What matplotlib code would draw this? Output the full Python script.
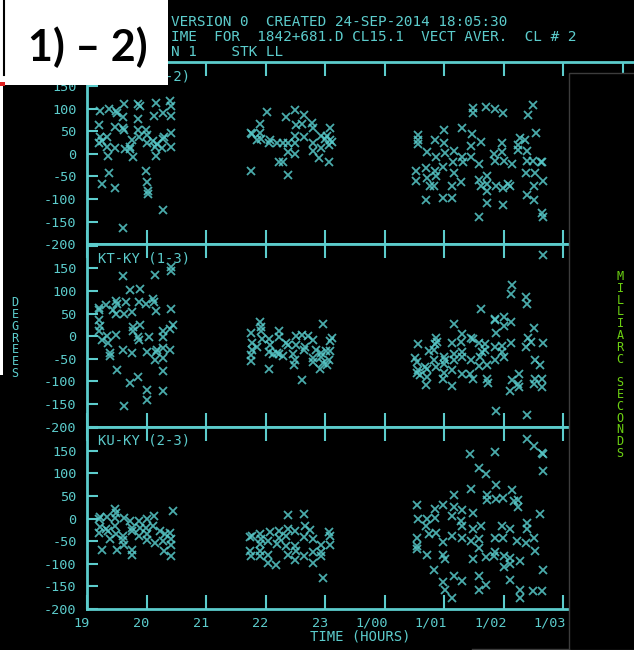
import matplotlib
matplotlib.use("Agg")
import matplotlib.pyplot as plt
import matplotlib.transforms as mtransforms
from matplotlib.patches import Rectangle
from matplotlib.lines import Line2D

W, H = 634, 650
CYAN = "#5ccccc"
MARK = "#58caca"
GREEN = "#6cd012"
MONO = "DejaVu Sans Mono"

# time axis: hours since 0h of day 0 (24 = 1/00, 25 = 1/01, ...)
x_ticks = [19, 20, 21, 22, 23, 24, 25, 26, 27, 28]
x_tick_labels = ["19", "20", "21", "22", "23", "1/00", "1/01", "1/02", "1/03", "1/04"]
y_ticks = [-200, -150, -100, -50, 0, 50, 100, 150, 200]
y_tick_labels = ["-200", "-150", "-100", "-50", "0", "50", "100", "150", ""]

baselines = ["KT-KU (1-2)", "KT-KY (1-3)", "KU-KY (2-3)"]

header_lines = [
    "VERSION 0  CREATED 24-SEP-2014 18:05:30",
    "IME  FOR  1842+681.D CL15.1  VECT AVER.  CL # 2",
    "N 1    STK LL",
]

# (time [h], phase [deg]) per baseline
kt_ku_points = [
    (19.22, 94), (19.37, 99), (19.49, 94), (19.51, 90), (19.62, 110), (19.60, 81),
    (19.86, 110), (19.89, 106), (19.86, 77), (20.16, 112), (20.39, 116), (20.42, 105),
    (20.28, 91), (20.13, 84), (20.41, 83), (19.21, 64), (19.47, 60), (19.61, 57),
    (19.62, 53), (19.86, 53), (19.99, 53), (20.00, 42), (19.88, 38), (19.22, 38),
    (19.33, 37), (19.25, 29), (19.21, 24), (19.34, 15), (19.47, 12), (19.64, 10),
    (19.72, 10), (19.75, 31), (19.73, 15), (20.11, 29), (20.14, 15), (20.18, 22),
    (20.27, 33), (20.29, 37), (20.42, 46), (20.41, 15), (20.26, 12), (20.01, 25),
    (19.35, -4), (19.77, -7), (20.16, -4), (19.37, -43), (19.99, -37), (19.25, -66),
    (19.47, -75), (20.00, -63), (20.02, -83), (20.03, -89), (20.28, -125), (19.61, -164),
    (22.03, 93), (22.50, 97), (22.34, 81), (22.65, 86), (21.91, 66), (22.52, 64),
    (22.61, 66), (22.78, 68), (22.79, 57), (23.08, 57), (21.75, 47), (21.78, 44),
    (21.90, 47), (21.92, 32), (22.08, 31), (22.06, 25), (22.19, 24), (22.30, 24),
    (22.37, 24), (22.50, 40), (22.65, 37), (22.50, 24), (22.80, 24), (22.93, 40),
    (23.00, 33), (23.08, 30), (23.11, 27), (22.80, 7), (22.94, 12), (23.07, 20),
    (22.38, 3), (22.50, 0), (22.90, -10), (22.22, -17), (22.30, -19), (23.07, -17),
    (21.75, -39), (22.37, -46), (21.86, 31), (23.03, 39),
    (25.48, 101), (25.48, 90), (25.71, 103), (25.85, 99), (25.99, 90), (26.49, 108),
    (26.42, 86), (25.00, 53), (25.30, 57), (25.47, 44), (25.62, 27), (24.57, 42),
    (24.57, 31), (24.57, 21), (24.85, 30), (25.00, 24), (24.72, 5), (24.87, -7),
    (25.02, 2), (25.16, 7), (25.31, -6), (25.45, 18), (25.45, -6), (25.32, -17),
    (25.15, -17), (25.58, -23), (25.97, 25), (25.84, -1), (25.97, 5), (25.86, -15),
    (26.01, -15), (26.14, -22), (26.28, 35), (26.36, 31), (26.25, 20), (26.25, 9),
    (26.39, 7), (26.54, 46), (26.39, -15), (26.50, -15), (26.63, -19), (26.64, -17),
    (24.53, -39), (24.70, -32), (24.72, -54), (24.85, -39), (24.87, -50), (24.98, -28),
    (25.16, -43), (24.76, -72), (24.83, -72), (24.53, -61), (25.13, -71), (25.29, -63),
    (25.59, -58), (25.63, -71), (25.73, -50), (25.72, -66), (25.72, -83), (25.87, -71),
    (25.99, -76), (26.11, -72), (26.08, -66), (26.37, -43), (26.53, -43), (26.51, -72),
    (26.66, -61), (26.39, -91), (26.51, -103), (24.70, -102), (24.98, -97), (25.13, -97),
    (25.73, -109), (25.99, -114), (25.58, -140), (26.64, -130), (26.66, -139),
]

kt_ky_points = [
    (19.60, 134), (20.14, 136), (20.41, 152), (20.41, 145), (19.72, 102), (19.89, 104),
    (19.49, 78), (19.50, 72), (19.66, 76), (19.21, 63), (19.32, 69), (19.21, 57),
    (19.44, 57), (19.49, 50), (19.62, 49), (19.75, 54), (19.88, 76), (19.99, 72),
    (20.11, 83), (20.13, 76), (20.16, 56), (20.42, 59), (19.21, 35), (19.22, 22),
    (19.21, 12), (19.49, 2), (19.34, 0), (19.25, -9), (19.36, -16), (19.38, -38),
    (19.38, -44), (19.77, 21), (19.78, 12), (19.89, 24), (19.86, -2), (19.88, -9),
    (20.05, -2), (19.60, -31), (19.75, -38), (20.00, -35), (20.16, -35), (20.17, -31),
    (20.28, -27), (20.28, -2), (20.27, 12), (20.44, 24), (20.39, 16), (20.39, -31),
    (20.27, -49), (20.14, -53), (19.50, -74), (20.27, -77), (19.72, -103), (19.86, -90),
    (20.00, -118), (20.00, -140), (20.28, -122), (19.62, -155),
    (21.90, 32), (21.92, 21), (21.92, 12), (21.75, 7), (22.22, 12), (22.23, -1),
    (22.96, 26), (23.11, -5), (23.08, -10), (21.78, -16), (21.86, -24), (21.94, -7),
    (22.06, -7), (22.08, -20), (22.37, -20), (22.34, -16), (22.52, 0), (22.61, 2),
    (22.72, 0), (22.79, -9), (22.51, -20), (22.66, -25), (22.65, -30), (22.85, -31),
    (21.77, -30), (21.75, -42), (21.75, -55), (22.06, -35), (22.19, -38), (22.23, -40),
    (22.30, -44), (22.47, -40), (22.79, -49), (22.93, -38), (23.02, -32), (23.08, -32),
    (22.94, -47), (23.07, -53), (22.50, -52), (22.48, -64), (22.92, -72), (23.04, -64),
    (22.06, -72), (22.61, -96), (22.80, -57), (22.96, -60), (22.13, -40),
    (26.14, 113), (26.13, 94), (26.37, 86), (26.39, 71), (25.62, 59), (25.86, 39),
    (25.86, 35), (26.00, 43), (26.13, 32), (26.00, 22), (25.16, 28), (25.87, 7),
    (26.52, 17), (24.86, -3), (24.88, -13), (25.30, 4), (25.45, -3), (25.48, -7),
    (25.14, -15), (25.29, -13), (25.58, -16), (25.69, -18), (25.85, -25), (25.97, -22),
    (26.13, -15), (26.42, -5), (26.47, -13), (26.67, -15), (26.37, -25), (24.56, -18),
    (24.74, -32), (24.84, -30), (24.85, -18), (24.52, -49), (24.54, -57), (24.68, -68),
    (24.71, -72), (24.56, -74), (24.54, -81), (24.60, -86), (24.71, -90), (24.69, -108),
    (24.84, -52), (24.86, -68), (25.00, -46), (25.02, -53), (25.00, -61), (25.16, -40),
    (25.16, -53), (25.30, -35), (25.30, -46), (25.45, -53), (25.60, -46), (25.64, -35),
    (25.69, -30), (25.72, -64), (25.58, -66), (25.85, -53), (25.97, -35), (26.00, -46),
    (25.13, -75), (25.00, -81), (24.99, -94), (25.30, -84), (25.44, -84), (25.48, -94),
    (25.72, -94), (25.74, -103), (25.14, -111), (26.14, -97), (26.26, -84), (26.24, -106),
    (26.26, -112), (26.11, -121), (26.53, -53), (26.61, -64), (26.53, -94), (26.64, -94),
    (26.52, -106), (26.64, -112), (25.87, -165), (26.39, -175), (26.66, 180),
]

ku_ky_points = [
    (19.22, 4), (19.21, -2), (19.34, 4), (19.47, 20), (19.49, 12), (19.62, 2),
    (19.47, 2), (19.22, -18), (19.21, -32), (19.32, -23), (19.36, -28), (19.39, -45),
    (19.49, -35), (19.47, -17), (19.60, -39), (19.61, -47), (19.62, -58), (19.75, -21),
    (19.75, -28), (19.88, -6), (20.00, -2), (20.13, 5), (19.99, -21), (20.01, -35),
    (20.00, -47), (20.11, -17), (20.23, -28), (20.31, -35), (20.39, -32), (20.41, -45),
    (20.27, -50), (20.14, -54), (20.29, -72), (20.42, -58), (20.42, -83), (20.44, 16),
    (19.25, -69), (19.50, -69), (19.75, -69), (19.75, -80), (19.88, -38), (19.89, -21),
    (19.72, -6),
    (22.37, 7), (22.65, 11), (21.74, -40), (21.77, -38), (21.91, -35), (21.92, -46),
    (21.91, -57), (22.08, -30), (22.22, -28), (22.37, -24), (22.50, -28), (22.66, -17),
    (22.75, -26), (21.74, -72), (21.75, -82), (21.90, -72), (21.90, -83), (22.05, -50),
    (22.05, -80), (22.05, -98), (22.18, -102), (22.20, -57), (22.34, -60), (22.37, -80),
    (22.50, -61), (22.51, -72), (22.50, -91), (22.65, -40), (22.80, -46), (22.65, -83),
    (22.79, -75), (22.79, -98), (22.94, -75), (22.93, -83), (22.94, -58), (23.07, -30),
    (23.08, -39), (23.09, -58), (22.96, -131), (22.22, -43), (22.34, -39),
    (25.44, 143), (25.85, 148), (26.39, 175), (26.51, 160), (26.64, 145), (26.66, 143),
    (26.66, 106), (25.59, 112), (25.71, 99), (25.87, 74), (25.45, 66), (26.14, 63),
    (24.55, 30), (24.99, 30), (25.16, 51), (25.16, 25), (25.30, 18), (25.48, 13),
    (25.73, 51), (25.73, 40), (25.87, 44), (25.99, 46), (26.17, 38), (26.25, 42),
    (26.25, 25), (24.85, 20), (24.85, 2), (24.57, -1), (24.71, -1), (24.70, -17),
    (24.74, -35), (24.87, -33), (25.14, 5), (25.29, -6), (25.31, -17), (25.48, -24),
    (25.62, -17), (25.97, -17), (26.11, -24), (26.40, -11), (26.39, -23), (26.61, 10),
    (24.54, -43), (24.55, -61), (24.71, -80), (24.99, -52), (25.13, -38), (25.30, -43),
    (25.45, -50), (25.59, -45), (25.59, -65), (25.86, -43), (25.99, -43), (26.22, -50),
    (26.38, -54), (26.51, -43), (26.53, -72), (24.99, -80), (25.01, -89), (25.48, -89),
    (25.71, -85), (25.84, -83), (25.86, -75), (26.00, -83), (26.11, -87), (26.11, -100),
    (26.27, -94), (26.01, -107), (24.83, -113), (26.66, -113), (24.98, -141), (25.16, -128),
    (25.31, -138), (25.59, -128), (25.71, -148), (25.59, -159), (26.11, -137), (26.27, -157),
    (26.27, -176), (26.50, -161), (26.64, -161), (25.02, -157), (25.14, -176), (24.55, -67),
]

panels = [kt_ku_points, kt_ky_points, ku_ky_points]


def fx(px):
    return px / W


def fy(py):
    return 1 - py / H


fig = plt.figure(figsize=(W / 100, H / 100), dpi=100, facecolor="black")
gs = fig.add_gridspec(3, 1, left=fx(87), right=1.0, top=fy(62), bottom=fy(609), hspace=0)
x_max = 19 + (W - 87) / 59.5

for i, pts in enumerate(panels):
    ax = fig.add_subplot(gs[i])
    ax.set_facecolor("black")
    t, p = zip(*pts)
    ax.plot(t, p, ls="none", marker="x", ms=5.5, mew=1.3, color=MARK, alpha=0.85)
    ax.set_xlim(19, x_max)
    ax.set_ylim(-200, 203)

    for side in ("left", "top", "bottom"):
        ax.spines[side].set_color(CYAN)
        ax.spines[side].set_linewidth(2)
    ax.spines["right"].set_visible(False)

    ax.set_xticks(x_ticks)
    ax.tick_params(axis="x", direction="in", length=10, width=1.5, color=CYAN,
                   top=True, bottom=True, labelbottom=False)
    ax.set_yticks(y_ticks)
    ax.set_yticklabels(y_tick_labels, fontfamily=MONO, fontsize=9.7, color=CYAN)
    ax.tick_params(axis="y", direction="in", length=8, width=1.5, color=CYAN,
                   left=True, right=False, pad=7.5)

    if i == len(panels) - 1:
        trans = mtransforms.blended_transform_factory(ax.transData, ax.transAxes)
        trans = trans + mtransforms.ScaledTranslation(3 / 100, -8 / 100, fig.dpi_scale_trans)
        for tv, lab in zip(x_ticks, x_tick_labels):
            ax.text(tv, 0, lab, transform=trans, ha="right", va="top",
                    fontfamily=MONO, fontsize=9.7, color=CYAN, clip_on=False)

# baseline titles
for i, name in enumerate(baselines):
    top = [62, 244, 427][i]
    fig.text(fx(98), fy(top + 14), name, ha="left", va="center",
             fontfamily=MONO, fontsize=10, color=CYAN, zorder=5)

# header
for j, line in enumerate(header_lines):
    fig.text(fx(171), fy(22 + 15 * j), line, ha="left", va="center",
             fontfamily=MONO, fontsize=10.4, color=CYAN, zorder=5)

fig.text(fx(360), fy(637), "TIME (HOURS)", ha="center", va="center",
         fontfamily=MONO, fontsize=10, color=CYAN)

fig.text(fx(15), fy(338), "\n".join("DEGREES"), ha="center", va="center",
         fontfamily=MONO, fontsize=8.5, color=CYAN, linespacing=0.88)

# overlapping window on the right
fig.add_artist(Rectangle((fx(569), 0), fx(W - 569) + 0.01, fy(73), transform=fig.transFigure,
                         facecolor="black", edgecolor="#3c3c3c", lw=1, zorder=10))
fig.add_artist(Line2D([fx(472), fx(569)], [fy(649), fy(649)], transform=fig.transFigure,
                      color="#3c3c3c", lw=1, zorder=10))
fig.text(fx(620), fy(365), "\n".join("MILLIARC SECONDS"), ha="center", va="center",
         fontfamily=MONO, fontsize=8.5, color=GREEN, linespacing=0.88, zorder=11)

# label box at the top left
fig.add_artist(Rectangle((0, fy(85)), fx(168), 85 / H, transform=fig.transFigure,
                         facecolor="white", edgecolor="none", zorder=10))
fig.add_artist(Rectangle((0, fy(375)), fx(3), (375 - 85) / H, transform=fig.transFigure,
                         facecolor="white", edgecolor="none", zorder=10))
fig.add_artist(Rectangle((0, fy(86)), fx(5), 4 / H, transform=fig.transFigure,
                         facecolor="#e02020", edgecolor="none", zorder=10))
fig.add_artist(Line2D([fx(4), fx(4)], [fy(0), fy(75)], transform=fig.transFigure,
                      color="black", lw=1.5, zorder=11))
fig.text(fx(88), fy(47), "1) \u2013 2)", ha="center", va="center",
         fontfamily="Lato", fontweight="bold", fontsize=31, color="black", zorder=12)

fig.savefig("out.png", dpi=100, facecolor="black")
